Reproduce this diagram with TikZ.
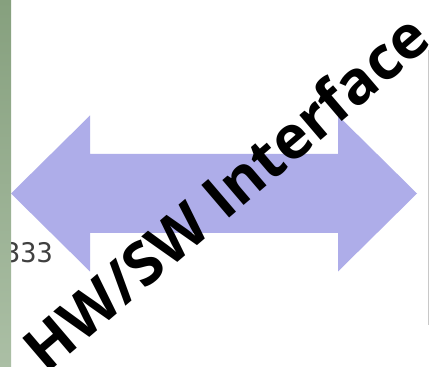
\documentclass[tikz,border=0pt]{standalone}
\usepackage{fontspec}
\newfontfamily\hwfont{Open Sans}
\newfontfamily\numfont{DejaVu Sans Mono}
\definecolor{arrowblue}{HTML}{AEADE9}
\definecolor{stripTop}{HTML}{86A07E}
\definecolor{stripBot}{HTML}{ABBFA5}
\definecolor{edgegray}{HTML}{C8C8C8}
\begin{document}
\begin{tikzpicture}[x=1pt,y=1pt,
  bigarrow/.style={fill=arrowblue,draw=none},
  titletext/.style={font=\hwfont\bfseries\fontsize{60}{60}\selectfont,text=black,inner sep=0pt,anchor=base,rotate=40.5},
  numtext/.style={font=\numfont\fontsize{27}{27}\selectfont,text=black!75,inner sep=0pt,anchor=base east}]
\useasboundingbox (0,0) rectangle (429,367);
\fill[white] (0,0) rectangle (429,367);
% double arrow
\path[bigarrow] (11,173.5) -- (90,251.5) -- (90,213) -- (338,213) -- (338,251.5) -- (417,173.5)
  -- (338,95.5) -- (338,134) -- (90,134) -- (90,95.5) -- cycle;
\node[numtext] (num) at (53,104) {333};
\shade[top color=stripTop,bottom color=stripBot] (0,0) rectangle (11,367);
\draw[edgegray,line width=1pt] (428,42) -- (428,317);
\node[titletext] (title) at (240,158) {HW/SW Interface};
\end{tikzpicture}
\end{document}
